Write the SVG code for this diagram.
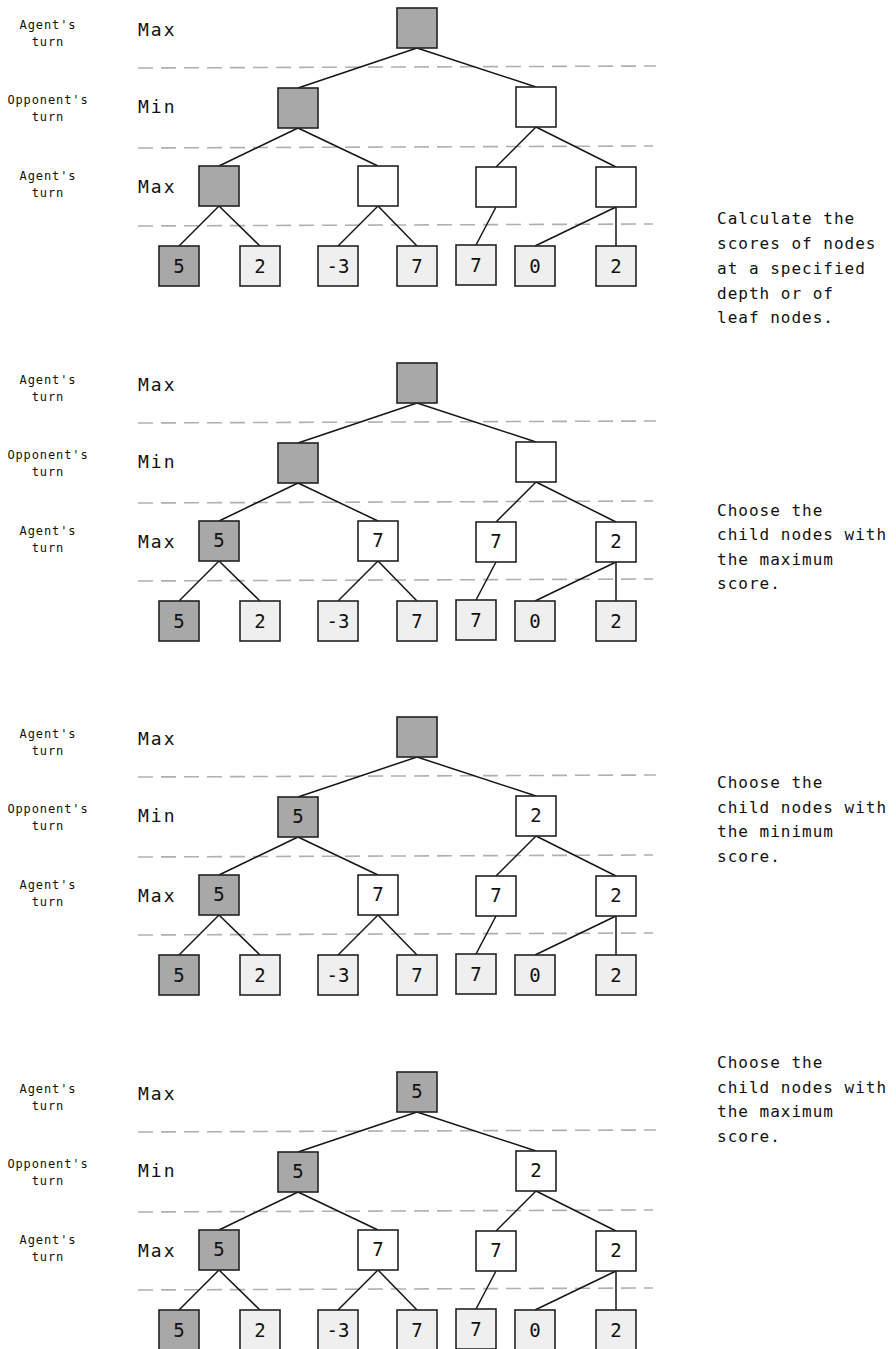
<svg xmlns="http://www.w3.org/2000/svg" width="896" height="1349" viewBox="0 0 896 1349">
  <style>
    .bg { fill: #ffffff; }
    .box { stroke: #222222; stroke-width: 1.6; }
    .dk { fill: #a8a8a8; }
    .wt { fill: #ffffff; }
    .lt { fill: #efefef; }
    .val { font-family: "DejaVu Sans Mono", "Liberation Mono", monospace; font-size: 19px; fill: #111111; text-anchor: middle; }
    .edge { stroke: #151515; stroke-width: 1.5; fill: none; }
    .sep { stroke: #b0b0b0; stroke-width: 1.6; stroke-dasharray: 15 8; fill: none; }
    .turn { font-family: "DejaVu Sans Mono", "Liberation Mono", monospace; font-size: 12px; letter-spacing: 0.9px; fill: #111111; text-anchor: middle; }
    .lvl { font-family: "DejaVu Sans Mono", "Liberation Mono", monospace; font-size: 18px; letter-spacing: 2px; fill: #111111; }
    .note { font-family: "DejaVu Sans Mono", "Liberation Mono", monospace; font-size: 16px; letter-spacing: 1px; fill: #111111; }
  </style>
  <defs>
    <!-- shared row labels and level separators of one tree panel -->
    <g id="rows">
      <g class="sep-lines">
        <path class="sep" d="M138 68 L656 66"/>
        <path class="sep" d="M138 148 L653 146"/>
        <path class="sep" d="M138 226 L653 224"/>
      </g>
      <text class="turn" x="48" y="29">Agent's</text>
      <text class="turn" x="48" y="46">turn</text>
      <text class="turn" x="48" y="104">Opponent's</text>
      <text class="turn" x="48" y="121">turn</text>
      <text class="turn" x="48" y="180">Agent's</text>
      <text class="turn" x="48" y="197">turn</text>
      <text class="lvl" x="138" y="36">Max</text>
      <text class="lvl" x="138" y="113">Min</text>
      <text class="lvl" x="138" y="193">Max</text>
    </g>
    <!-- tree edges (same in every panel) -->
    <g id="edges">
      <path class="edge" d="M417 48 L298 88"/>
      <path class="edge" d="M417 48 L536 87"/>
      <path class="edge" d="M298 128 L219 166"/>
      <path class="edge" d="M298 128 L378 166"/>
      <path class="edge" d="M536 127 L496 167"/>
      <path class="edge" d="M536 127 L616 167"/>
      <path class="edge" d="M219 206 L179 246"/>
      <path class="edge" d="M219 206 L260 246"/>
      <path class="edge" d="M378 206 L338 246"/>
      <path class="edge" d="M378 206 L417 246"/>
      <path class="edge" d="M496 207 L476 245"/>
      <path class="edge" d="M616 207 L535 246"/>
      <path class="edge" d="M616 207 L616 246"/>
    </g>
    <!-- leaf row (same in every panel) -->
    <g id="leaves">
      <rect class="box dk" x="159" y="246" width="40" height="40"/><text class="val" x="179" y="273">5</text>
      <rect class="box lt" x="240" y="246" width="40" height="40"/><text class="val" x="260" y="273">2</text>
      <rect class="box lt" x="318" y="246" width="40" height="40"/><text class="val" x="338" y="273">-3</text>
      <rect class="box lt" x="397" y="246" width="40" height="40"/><text class="val" x="417" y="273">7</text>
      <rect class="box lt" x="456" y="245" width="40" height="40"/><text class="val" x="476" y="272">7</text>
      <rect class="box lt" x="515" y="246" width="40" height="40"/><text class="val" x="535" y="273">0</text>
      <rect class="box lt" x="596" y="246" width="40" height="40"/><text class="val" x="616" y="273">2</text>
    </g>
  </defs>

  <rect class="bg" x="0" y="0" width="896" height="1349"/>

  <!-- Panel 1: leaf scores -->
  <g id="panel1">
    <use href="#rows"/>
    <g id="p1-connectors"><use href="#edges"/></g>
    <g id="p1-root"><rect class="box dk" x="397" y="8" width="40" height="40"/></g>
    <g id="p1-min-left"><rect class="box dk" x="278" y="88" width="40" height="40"/></g>
    <g id="p1-min-right"><rect class="box wt" x="516" y="87" width="40" height="40"/></g>
    <g id="p1-max-a"><rect class="box dk" x="199" y="166" width="40" height="40"/></g>
    <g id="p1-max-b"><rect class="box wt" x="358" y="166" width="40" height="40"/></g>
    <g id="p1-max-c"><rect class="box wt" x="476" y="167" width="40" height="40"/></g>
    <g id="p1-max-d"><rect class="box wt" x="596" y="167" width="40" height="40"/></g>
    <g id="p1-leaves"><use href="#leaves"/></g>
    <text class="note" x="717" y="224">Calculate the</text>
    <text class="note" x="717" y="249">scores of nodes</text>
    <text class="note" x="717" y="274">at a specified</text>
    <text class="note" x="717" y="299">depth or of</text>
    <text class="note" x="717" y="323">leaf nodes.</text>
  </g>

  <!-- Panel 2: max level resolved -->
  <g id="panel2" transform="translate(0,355)">
    <use href="#rows"/>
    <g id="p2-connectors"><use href="#edges"/></g>
    <g id="p2-root"><rect class="box dk" x="397" y="8" width="40" height="40"/></g>
    <g id="p2-min-left"><rect class="box dk" x="278" y="88" width="40" height="40"/></g>
    <g id="p2-min-right"><rect class="box wt" x="516" y="87" width="40" height="40"/></g>
    <g id="p2-max-a"><rect class="box dk" x="199" y="166" width="40" height="40"/><text class="val" x="219" y="192">5</text></g>
    <g id="p2-max-b"><rect class="box wt" x="358" y="166" width="40" height="40"/><text class="val" x="378" y="192">7</text></g>
    <g id="p2-max-c"><rect class="box wt" x="476" y="167" width="40" height="40"/><text class="val" x="496" y="193">7</text></g>
    <g id="p2-max-d"><rect class="box wt" x="596" y="167" width="40" height="40"/><text class="val" x="616" y="193">2</text></g>
    <g id="p2-leaves"><use href="#leaves"/></g>
    <text class="note" x="717" y="161">Choose the</text>
    <text class="note" x="717" y="185">child nodes with</text>
    <text class="note" x="717" y="210">the maximum</text>
    <text class="note" x="717" y="234">score.</text>
  </g>

  <!-- Panel 3: min level resolved -->
  <g id="panel3" transform="translate(0,709)">
    <use href="#rows"/>
    <g id="p3-connectors"><use href="#edges"/></g>
    <g id="p3-root"><rect class="box dk" x="397" y="8" width="40" height="40"/></g>
    <g id="p3-min-left"><rect class="box dk" x="278" y="88" width="40" height="40"/><text class="val" x="298" y="114">5</text></g>
    <g id="p3-min-right"><rect class="box wt" x="516" y="87" width="40" height="40"/><text class="val" x="536" y="113">2</text></g>
    <g id="p3-max-a"><rect class="box dk" x="199" y="166" width="40" height="40"/><text class="val" x="219" y="192">5</text></g>
    <g id="p3-max-b"><rect class="box wt" x="358" y="166" width="40" height="40"/><text class="val" x="378" y="192">7</text></g>
    <g id="p3-max-c"><rect class="box wt" x="476" y="167" width="40" height="40"/><text class="val" x="496" y="193">7</text></g>
    <g id="p3-max-d"><rect class="box wt" x="596" y="167" width="40" height="40"/><text class="val" x="616" y="193">2</text></g>
    <g id="p3-leaves"><use href="#leaves"/></g>
    <text class="note" x="717" y="79">Choose the</text>
    <text class="note" x="717" y="104">child nodes with</text>
    <text class="note" x="717" y="128">the minimum</text>
    <text class="note" x="717" y="153">score.</text>
  </g>

  <!-- Panel 4: root resolved -->
  <g id="panel4" transform="translate(0,1064)">
    <use href="#rows"/>
    <g id="p4-connectors"><use href="#edges"/></g>
    <g id="p4-root"><rect class="box dk" x="397" y="8" width="40" height="40"/><text class="val" x="417" y="34">5</text></g>
    <g id="p4-min-left"><rect class="box dk" x="278" y="88" width="40" height="40"/><text class="val" x="298" y="114">5</text></g>
    <g id="p4-min-right"><rect class="box wt" x="516" y="87" width="40" height="40"/><text class="val" x="536" y="113">2</text></g>
    <g id="p4-max-a"><rect class="box dk" x="199" y="166" width="40" height="40"/><text class="val" x="219" y="192">5</text></g>
    <g id="p4-max-b"><rect class="box wt" x="358" y="166" width="40" height="40"/><text class="val" x="378" y="192">7</text></g>
    <g id="p4-max-c"><rect class="box wt" x="476" y="167" width="40" height="40"/><text class="val" x="496" y="193">7</text></g>
    <g id="p4-max-d"><rect class="box wt" x="596" y="167" width="40" height="40"/><text class="val" x="616" y="193">2</text></g>
    <g id="p4-leaves"><use href="#leaves"/></g>
    <text class="note" x="717" y="4">Choose the</text>
    <text class="note" x="717" y="29">child nodes with</text>
    <text class="note" x="717" y="53">the maximum</text>
    <text class="note" x="717" y="78">score.</text>
  </g>
</svg>
